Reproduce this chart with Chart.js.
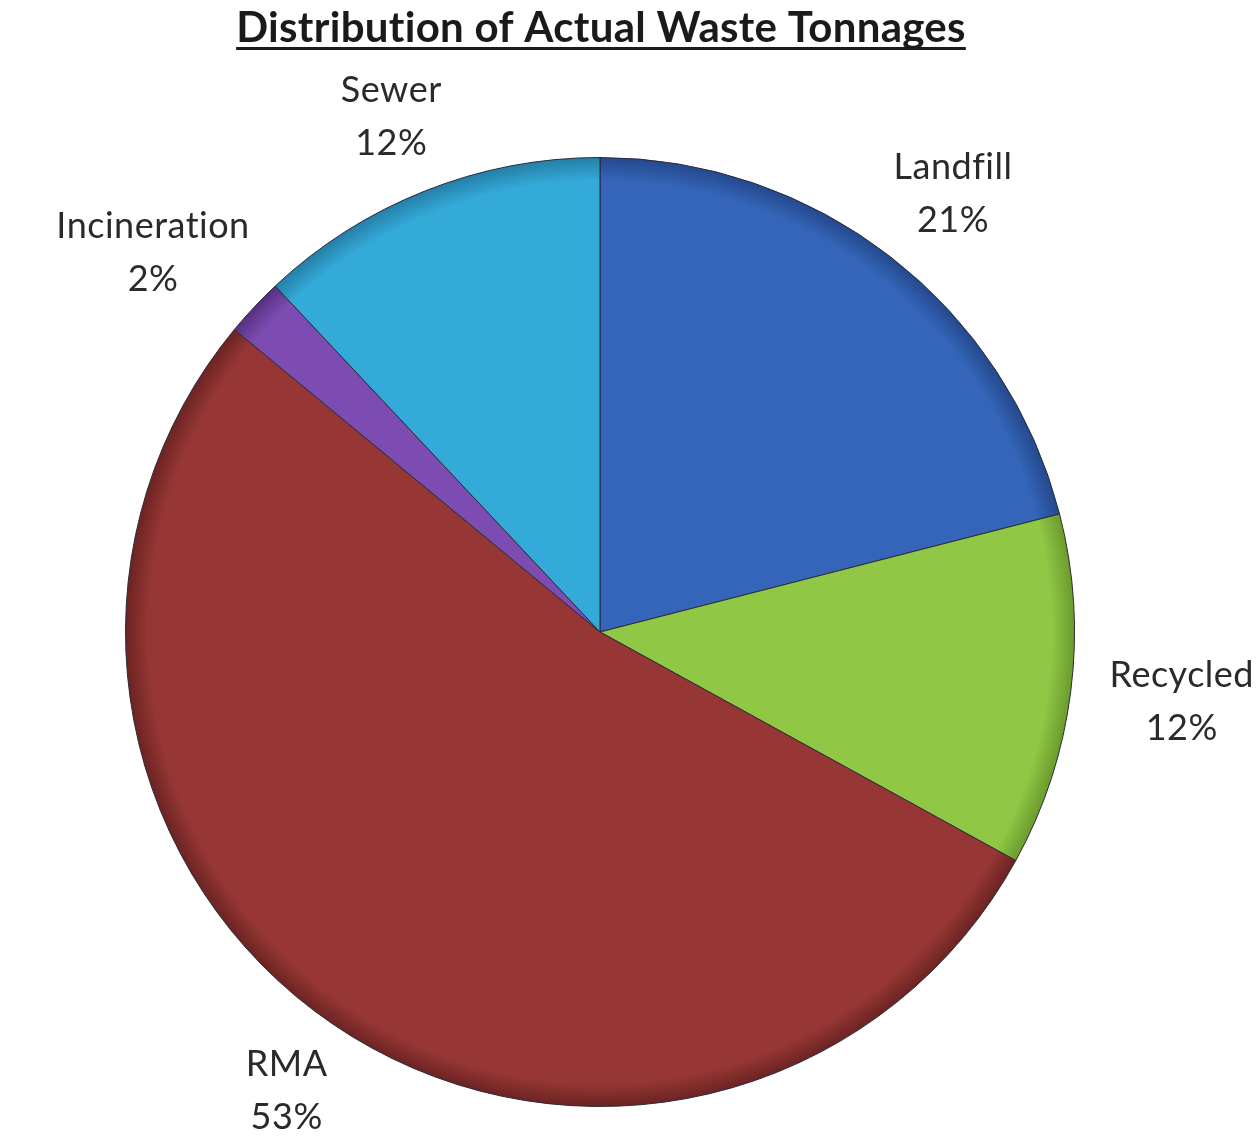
<!DOCTYPE html>
<html>
<head>
<meta charset="utf-8">
<script src="https://cdn.jsdelivr.net/npm/chart.js@4"></script>
<style>
  html, body { margin: 0; padding: 0; background: #fff; }
  #wrap { width: 1260px; height: 1148px; }
</style>
</head>
<body>
<div id="wrap"><canvas id="pie"></canvas></div>
<script>
// --- DATA ---
const TITLE = 'Distribution of Actual Waste Tonnages';
const categories = ['Landfill', 'Recycled', 'RMA', 'Incineration', 'Sewer'];
const shares = [21, 12, 53, 2, 12];
const sliceColors = ['#3465b8', '#90c846', '#973735', '#7c4cb2', '#34aad8'];
const rimColors = ['#24488c', '#6a9a2c', '#6a2322', '#55307f', '#247ea6'];

// radial shading: flat fill with a darker rim near the edge
function sliceFill(ctx) {
    const chart = ctx.chart;
    const a = chart.chartArea;
    if (!a) return sliceColors[ctx.dataIndex];
    const cx = (a.left + a.right) / 2;
    const cy = (a.top + a.bottom) / 2;
    const r = Math.min(a.right - a.left, a.bottom - a.top) / 2;
    const g = chart.ctx.createRadialGradient(cx, cy, 0, cx, cy, r);
    g.addColorStop(0, sliceColors[ctx.dataIndex]);
    g.addColorStop(0.95, sliceColors[ctx.dataIndex]);
    g.addColorStop(1, rimColors[ctx.dataIndex]);
    return g;
}

// title + outside labels (label box pushed out from the rim, Excel style)
const labelPlugin = {
    id: 'outsideLabels',
    afterDraw(chart) {
        const c = chart.ctx;
        c.save();
        c.letterSpacing = '0.3px';
        // title
        c.font = 'bold 42px Lato';
        c.fillStyle = '#1a1a1a';
        c.textAlign = 'center';
        c.textBaseline = 'alphabetic';
        c.fillText(TITLE, 601, 42);
        const w = c.measureText(TITLE).width;
        c.fillRect(601 - w / 2, 47, w, 3);

        // slice labels
        c.font = '36px Lato';
        c.letterSpacing = '0.5px';
        c.fillStyle = '#2a2a2a';
        c.textBaseline = 'middle';
        const lineGap = 53;
        const meta = chart.getDatasetMeta(0);
        meta.data.forEach((arc, i) => {
            const mid = (arc.startAngle + arc.endAngle) / 2;
            const dx = Math.cos(mid), dy = Math.sin(mid);
            const r = arc.outerRadius + 42;
            const lines = [categories[i], shares[i] + '%'];
            const bw = Math.max(...lines.map(t => c.measureText(t).width));
            let x = arc.x + dx * r + dx * bw / 2;
            const y = arc.y + dy * r + dy * 38;
            x = Math.min(x, chart.width - 6 - bw / 2);
            c.fillText(lines[0], x, y - lineGap / 2);
            c.fillText(lines[1], x, y + lineGap / 2);
        });
        c.restore();
    }
};

new Chart(document.getElementById('pie'), {
    type: 'pie',
    data: {
        labels: categories,
        datasets: [{
            data: shares,
            backgroundColor: sliceFill,
            borderColor: '#2b2b3a',
            borderWidth: 1
        }]
    },
    options: {
        responsive: true,
        maintainAspectRatio: false,
        animation: false,
        layout: { padding: { left: 125, right: 185, top: 157, bottom: 41 } },
        plugins: {
            legend: { display: false },
            title: { display: false },
            tooltip: { enabled: false }
        }
    },
    plugins: [labelPlugin]
});
</script>
</body>
</html>
